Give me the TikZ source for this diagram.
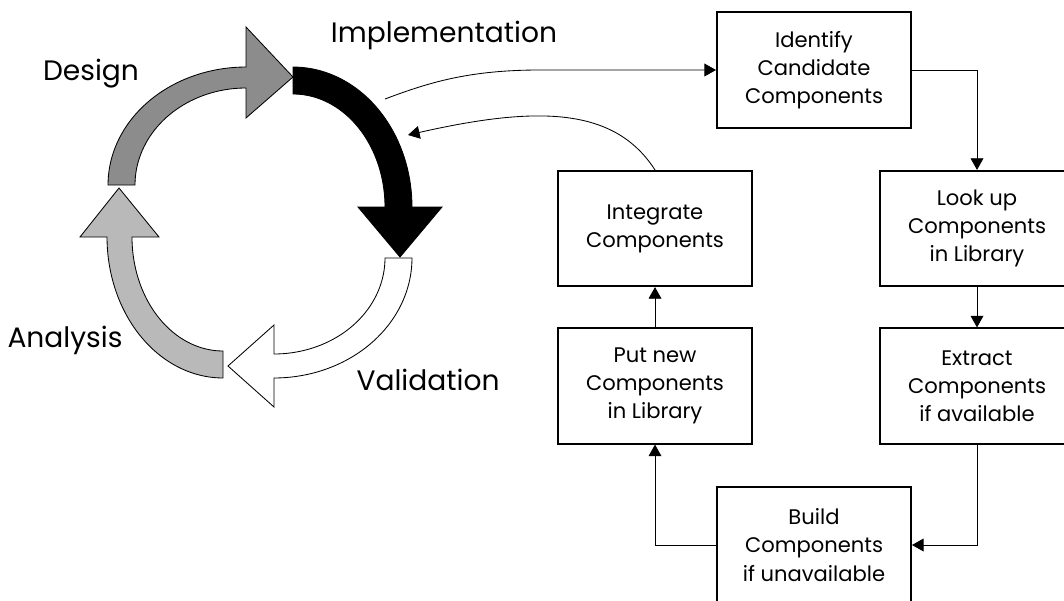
\documentclass[tikz,border=0pt]{standalone}
\usepackage{fontspec}
\setmainfont{Poppins}
\usepackage{xcolor}
\usepackage{tikz}
\usetikzlibrary{arrows.meta}

\definecolor{designgray}{RGB}{140,140,140}
\definecolor{analysisgray}{RGB}{185,185,185}

\tikzset{
  stagebox/.style={draw, line width=1.4pt, minimum width=48.5mm, minimum height=28.8mm,
    align=center, font=\fontsize{15}{20}\selectfont, inner sep=0pt},
  phase/.style={anchor=base, font=\fontsize{20}{24}\selectfont},
  flow/.style={line width=0.6pt, -{Triangle[length=2.9mm,width=3.2mm]}},
  ring/.style={line width=0.6pt}
}

\begin{document}
\begin{tikzpicture}[x=0.25mm, y=-0.25mm]
    \clip (0,0) rectangle (1064,600);

    % Draw the cycle arrows
    \filldraw[ring, fill=designgray] (135,185) -- (108,185)
      -- plot[domain=180:90, samples=40] ({246+138*cos(\x)}, {185-118*sin(\x)})
      -- (246,27) -- (293,77) -- (246,118) -- (246,88)
      -- plot[domain=90:180, samples=40] ({246+111*cos(\x)}, {185-97*sin(\x)}) -- cycle;
    \filldraw[ring, fill=black] (293,94) -- (293,67)
      -- plot[domain=90:0, samples=40] ({293+119*cos(\x)}, {207-140*sin(\x)})
      -- (442,207) -- (400,257) -- (358,207) -- (385,207)
      -- plot[domain=0:90, samples=40] ({293+92*cos(\x)}, {207-113*sin(\x)}) -- cycle;
    \filldraw[ring, fill=white] (385,258) -- (412,258)
      -- plot[domain=0:-90, samples=40] ({274+138*cos(\x)}, {258-120*sin(\x)})
      -- (274,407) -- (228,366) -- (274,325) -- (274,354)
      -- plot[domain=-90:0, samples=40] ({274+111*cos(\x)}, {258-96*sin(\x)}) -- cycle;
    \filldraw[ring, fill=analysisgray] (223,351) -- (223,378)
      -- plot[domain=-90:-180, samples=40] ({223+116*cos(\x)}, {237-141*sin(\x)})
      -- (80,237) -- (119,188) -- (159,237) -- (132,237)
      -- plot[domain=-180:-90, samples=40] ({223+91*cos(\x)}, {237-114*sin(\x)}) -- cycle;

    % Draw phase labels
    \node[phase] (impl) at (444,42) {Implementation};
    \node[phase] (design) at (91,80) {Design};
    \node[phase] (analysis) at (65,347) {Analysis};
    \node[phase] (valid) at (428,390) {Validation};

    % Draw component steps
    \node[stagebox] (ident) at (814,70) {Identify\\Candidate\\Components};
    \node[stagebox] (lookup) at (977,228.5) {Look up\\Components\\in Library};
    \node[stagebox] (extract) at (977,386) {Extract\\Components\\if available};
    \node[stagebox] (build) at (814,545) {Build\\Components\\if unavailable};
    \node[stagebox] (putnew) at (655,386) {Put new\\Components\\in Library};
    \node[stagebox] (integ) at (655,228.5) {Integrate\\Components};

    % Draw links
    \coordinate (implout) at (385,99);
    \coordinate (implin) at (408,135);
    \draw[flow] (implout) .. controls (430,82) and (470,70) .. (540,70) -- (ident.west);
    \draw[flow] (ident.east) -| (lookup.north);
    \draw[flow] (lookup.south) -- (extract.north);
    \draw[flow] (extract.south) |- (build.east);
    \draw[flow] (build.west) -| (putnew.south);
    \draw[flow] (putnew.north) -- (integ.south);
    \draw[flow] (integ.north) .. controls (615,108) and (540,105) .. (implin);
\end{tikzpicture}
\end{document}
